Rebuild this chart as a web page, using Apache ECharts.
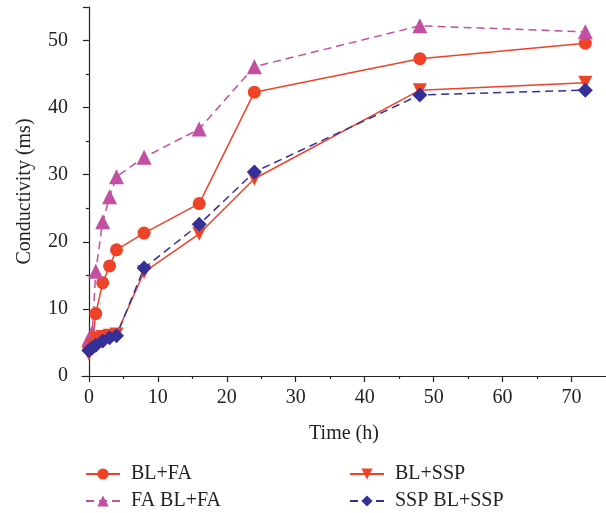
<!DOCTYPE html>
<html><head><meta charset="utf-8">
<script src="https://cdn.jsdelivr.net/npm/echarts@6/dist/echarts.min.js"></script>
<style>html,body{margin:0;padding:0;background:#fff}#c{width:606px;height:513px}</style>
</head><body><div id="c"></div>
<script>
const times = [0, 0.5, 1, 2, 3, 4, 8, 16, 24, 48, 72];
const blfa   = [4.5, 5.0, 9.3, 13.9, 16.4, 18.8, 21.3, 25.7, 42.3, 47.3, 49.6];
const fablfa = [5.5, 6.5, 15.6, 23.0, 26.7, 29.7, 32.6, 36.8, 46.1, 52.2, 51.3];
const blssp  = [3.3, 4.5, 5.5, 5.8, 6.0, 6.2, 15.5, 21.2, 29.4, 42.6, 43.7];
const sspblssp = [3.8, 4.2, 4.6, 5.2, 5.7, 6.0, 16.1, 22.6, 30.4, 41.9, 42.6];
const xMajor = [0, 10, 20, 30, 40, 50, 60, 70];
const xMinor = [5, 15, 25, 35, 45, 55, 65];
const yMajor = [0, 10, 20, 30, 40, 50];
const names = ['BL+FA', 'FA BL+FA', 'BL+SSP', 'SSP BL+SSP'];

const RED = '#ee4328', PINK = '#c24fa2', NAVY = '#352f98';
const font = 'Liberation Serif';
const FS = 20;
const pair = a => times.map((t, i) => [t, a[i]]);

const chart = echarts.init(document.getElementById('c'));
const axisCommon = {
  axisLine: {lineStyle: {color: '#222', width: 1.2}},
  splitLine: {show: false}
};
const legendAt = (name, left, top) => ({
  data: [name], left: left, top: top,
  itemWidth: 34, itemHeight: 14, itemGap: 10,
  textStyle: {fontFamily: font, fontSize: FS, color: '#222', padding: [0, 0, 0, 6]}
});
chart.setOption({
  animation: false,
  grid: {left: 82, right: 0, top: 7, bottom: 137},
  xAxis: [{
    type: 'value', min: -1, max: 75,
    name: 'Time (h)', nameLocation: 'middle', nameGap: 48,
    nameTextStyle: {fontFamily: font, fontSize: FS, color: '#222'},
    ...axisCommon,
    axisTick: {show: true, length: 6, customValues: xMajor, lineStyle: {color: '#222', width: 1.2}},
    axisLabel: {customValues: xMajor, margin: 12, fontFamily: font, fontSize: FS, color: '#222'}
  }, {
    type: 'value', min: -1, max: 75, position: 'bottom',
    axisLine: {show: false}, splitLine: {show: false},
    axisTick: {show: true, length: 3, customValues: xMinor, lineStyle: {color: '#222', width: 1.2}},
    axisLabel: {show: false}
  }],
  yAxis: {
    type: 'value', min: 0, max: 55, interval: 10,
    name: 'Conductivity (ms)', nameLocation: 'middle', nameGap: 47,
    nameTextStyle: {fontFamily: font, fontSize: FS, color: '#222'},
    ...axisCommon,
    axisTick: {show: true, length: 6, lineStyle: {color: '#222', width: 1.2}},
    minorTick: {show: true, splitNumber: 2, length: 3, lineStyle: {color: '#222', width: 1.2}},
    axisLabel: {customValues: yMajor, margin: 14, fontFamily: font, fontSize: FS, color: '#222'}
  },
  legend: [
    legendAt(names[0], 80, 459),
    legendAt(names[1], 80, 486),
    legendAt(names[2], 344, 459),
    legendAt(names[3], 344, 486)
  ],
  series: [{
    name: names[0], type: 'line', data: pair(blfa),
    symbol: 'circle', symbolSize: 13,
    itemStyle: {color: RED}, lineStyle: {color: RED, width: 1.5}
  }, {
    name: names[1], type: 'line', data: pair(fablfa),
    symbol: 'triangle', symbolSize: 15,
    itemStyle: {color: PINK}, lineStyle: {color: PINK, width: 1.5, type: [8, 5]}
  }, {
    name: names[2], type: 'line', data: pair(blssp),
    symbol: 'triangle', symbolRotate: 180, symbolSize: 14,
    itemStyle: {color: RED}, lineStyle: {color: RED, width: 1.5}
  }, {
    name: names[3], type: 'line', data: pair(sspblssp),
    symbol: 'diamond', symbolSize: 15,
    itemStyle: {color: NAVY}, lineStyle: {color: NAVY, width: 1.5, type: [8, 5]}
  }]
});
</script></body></html>
